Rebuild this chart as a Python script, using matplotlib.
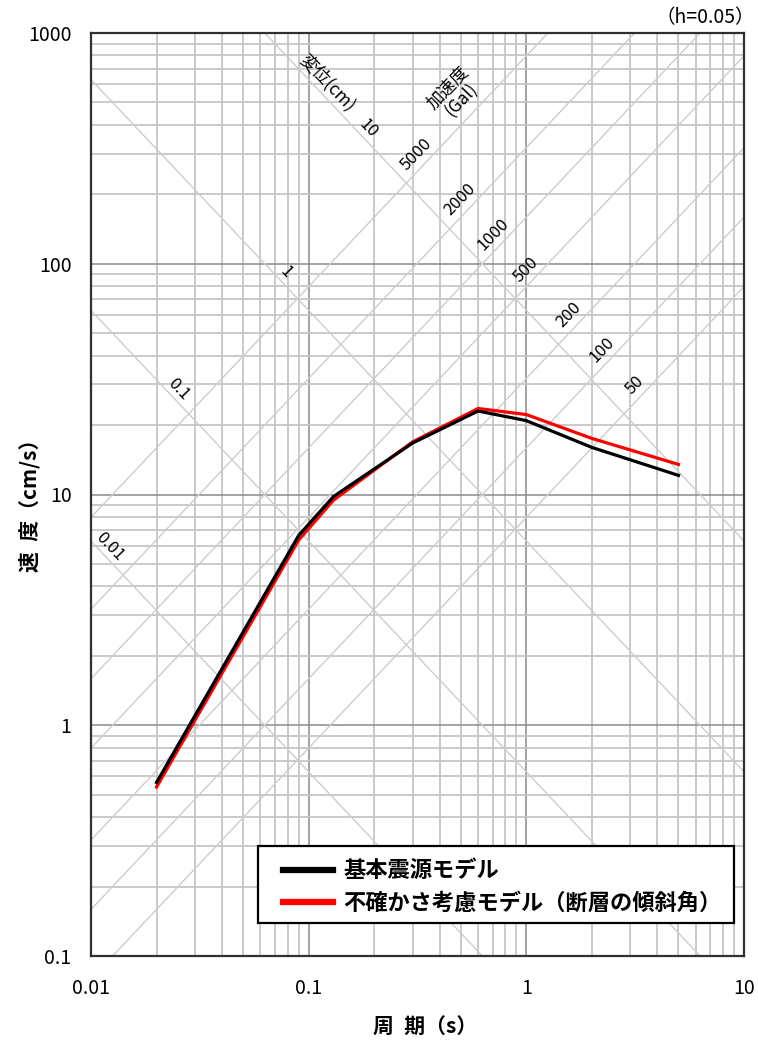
import numpy as np
import matplotlib
matplotlib.use("Agg")
import matplotlib.pyplot as plt
from matplotlib.patches import Rectangle

plt.rcParams['font.family'] = ['Noto Sans CJK JP', 'DejaVu Sans']

# ---------------- data ----------------
periods = [0.02, 0.09, 0.13, 0.30, 0.60, 1.0, 2.0, 5.0]
sv_base = [0.565, 6.65, 9.8, 16.7, 23.0, 20.9, 16.0, 12.1]
sv_dip = [0.54, 6.35, 9.45, 16.9, 23.6, 22.2, 17.5, 13.5]
series_labels = ["基本震源モデル", "不確かさ考慮モデル（断層の傾斜角）"]
series_colors = ["#000000", "#ff0000"]

disp_values = [0.01, 0.1, 1, 10]            # cm
disp_labels = ["0.01", "0.1", "1", "10"]
acc_values = [5000, 2000, 1000, 500, 200, 100, 50]   # Gal
acc_labels = ["5000", "2000", "1000", "500", "200", "100", "50"]

xticks = [0.01, 0.1, 1, 10]
xticklabels = ["0.01", "0.1", "1", "10"]
yticks = [0.1, 1, 10, 100, 1000]
yticklabels = ["0.1", "1", "10", "100", "1000"]

# label placement (period along each displacement line) - layout only
disp_label_T = [0.0122, 0.0253, 0.0783, 0.188]

# ---------------- figure ----------------
W, H = 758, 1040
fig = plt.figure(figsize=(W / 100, H / 100), dpi=100)
L, R, T_, B = 91, 744, 33, 956
AW, AH = R - L, B - T_
ax = fig.add_axes([L / W, 1 - B / H, AW / W, AH / H])
ax.set_xscale('log')
ax.set_yscale('log')
ax.set_xlim(0.01, 10)
ax.set_ylim(0.1, 1000)


def axx(px):
    return (px - L) / AW


def axy(py):
    return (B - py) / AH


ax.grid(which='minor', color='#c6c6c6', lw=1.3, zorder=0)
ax.grid(which='major', color='#8a8a8a', lw=1.1, zorder=0.5)
ax.set_axisbelow(True)

Tline = np.array([0.001, 100.0])
diag_color = '#cdcdcd'
for d in disp_values:
    ax.plot(Tline, 2 * np.pi * d / Tline, color=diag_color, lw=1.0, zorder=1)
for a in acc_values:
    ax.plot(Tline, a * Tline / (2 * np.pi), color=diag_color, lw=1.0, zorder=1)

# displacement labels (just above each line)
for d, lab, tl in zip(disp_values, disp_labels, disp_label_T):
    ax.annotate(lab, (tl, 2 * np.pi * d / tl), xytext=(0, 10), textcoords='offset points',
                rotation=-46, ha='center', va='center', fontsize=12,
                rotation_mode='anchor', zorder=3)
# acceleration labels near intersection with the 10 cm displacement line
for a, lab in zip(acc_values, acc_labels):
    tp = 2 * np.pi * np.sqrt(10 / a)
    sv = 2 * np.pi * 10 / tp
    ax.annotate(lab, (tp, sv), xytext=(7.5, 21), textcoords='offset points',
                rotation=46, ha='center', va='center', fontsize=12,
                rotation_mode='anchor', zorder=3)

ax.text(axx(327), axy(83), "変位(cm)", transform=ax.transAxes,
        rotation=-46, ha='center', va='center', fontsize=12.5, rotation_mode='anchor')
ax.text(axx(455), axy(94), "加速度\n(Gal)", transform=ax.transAxes,
        rotation=46, ha='center', va='center', fontsize=12.5, rotation_mode='anchor',
        linespacing=1.0, multialignment='center')

# data
l1, = ax.plot(periods, sv_base, color=series_colors[0], lw=2.3, zorder=5)
l2, = ax.plot(periods, sv_dip, color=series_colors[1], lw=2.3, zorder=4)

ax.set_xticks(xticks)
ax.set_xticklabels(xticklabels)
ax.set_yticks(yticks)
ax.set_yticklabels(yticklabels)
ax.tick_params(which='both', length=0)
ax.tick_params(axis='x', pad=16, labelsize=14)
ax.tick_params(axis='y', pad=14, labelsize=14)

for sp in ax.spines.values():
    sp.set_color('#303030')
    sp.set_linewidth(1.6)

ax.set_xlabel("周\u2002期（s）", fontsize=15, fontweight='bold', va='center')
ax.xaxis.set_label_coords(axx(425), axy(1027))
ax.set_ylabel("速\u2002度（cm/s）", fontsize=15, fontweight='bold', va='center')
ax.yaxis.set_label_coords(axx(30), axy(500))

ax.text(axx(755), axy(18), "（h=0.05）", transform=ax.transAxes,
        ha='right', va='center', fontsize=14)

# legend frame drawn at reference position, legend entries inside
frame = Rectangle((axx(258), axy(923)), axx(734) - axx(258), axy(846) - axy(923),
                  transform=ax.transAxes, facecolor='white', edgecolor='black',
                  lw=1.6, zorder=9)
ax.add_patch(frame)
leg = ax.legend([l1, l2], series_labels, loc='center left',
                bbox_to_anchor=(axx(283), axy(887)), frameon=False,
                borderaxespad=0, borderpad=0,
                prop={'size': 16, 'weight': 'bold'}, handlelength=2.25,
                handletextpad=0.45, labelspacing=0.42)
for h in leg.legend_handles:
    h.set_linewidth(4.5)
leg.set_zorder(10)

fig.savefig("out.png", dpi=100)
